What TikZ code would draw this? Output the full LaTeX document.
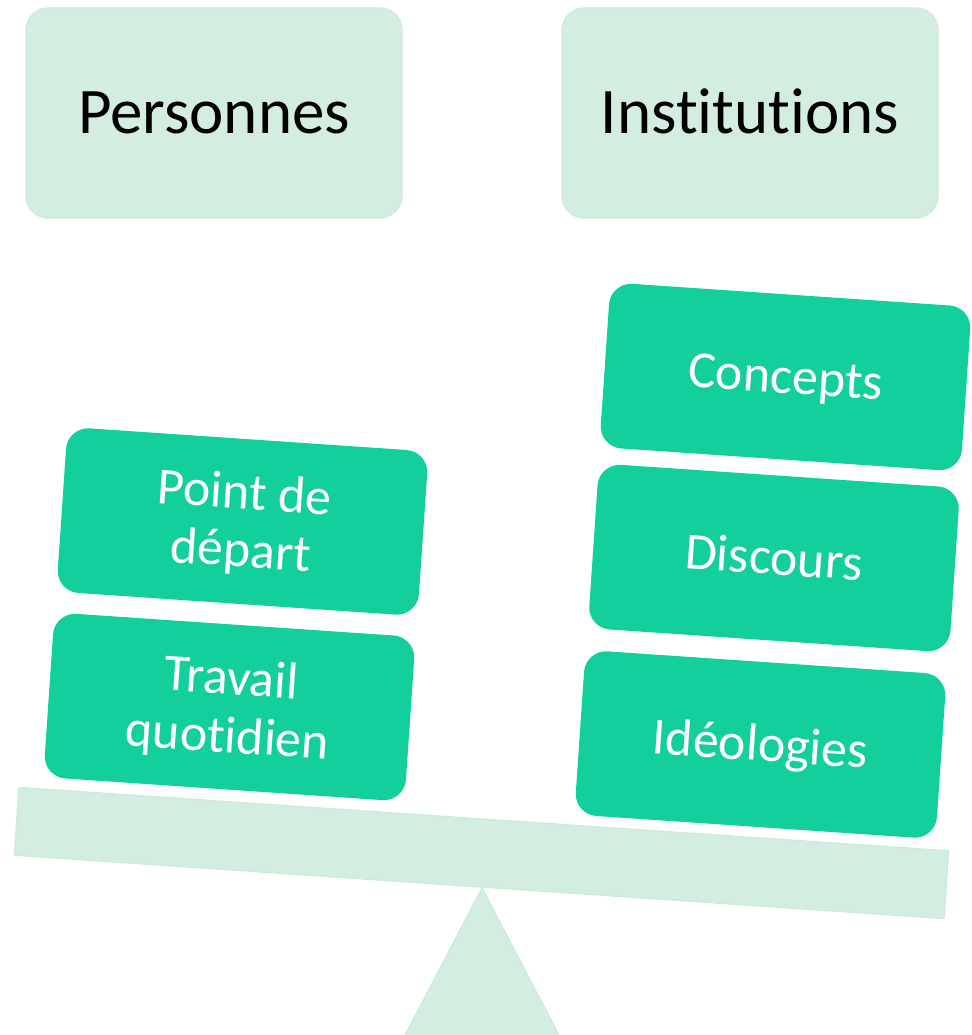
\documentclass[tikz,border=0pt]{standalone}
\usepackage{fontspec}
\setmainfont{Carlito}[Ligatures=NoCommon]
\definecolor{dgreen}{HTML}{12CF9B}
\definecolor{lgreen}{HTML}{D3EEE1}
\definecolor{lborder}{HTML}{CBEBD9}
\tikzset{
  topbox/.style={rectangle, rounded corners=22pt, fill=lgreen, draw=lborder, line width=1.2pt,
    minimum width=376pt, minimum height=210pt, inner sep=0pt, text=black,
    font=\fontsize{65}{72}\selectfont, text height=41pt, text depth=0pt},
  greenbox/.style={rectangle, rounded corners=22pt, fill=dgreen, draw=none,
    minimum width=362pt, minimum height=165pt, inner sep=0pt, rotate=-3.9, text=white,
    font=\fontsize{52}{58}\selectfont, align=center},
  oneline/.style={text height=33pt, text depth=0pt},
  twoline/.style={text height=91pt, text depth=0pt},
  lightshape/.style={fill=lgreen, draw=lborder, line width=1.2pt}
}
\begin{document}
\begin{tikzpicture}[x=1pt,y=1pt]
\useasboundingbox (0,0) rectangle (971,1035);
\clip (0,0) rectangle (971,1035);
% fulcrum
\coordinate (apex) at (482,147);
\coordinate (tl) at (371,-65);
\coordinate (tr) at (593,-65);
\draw[lightshape] (apex) -- (tr) -- (tl) -- cycle;
% beam
\node[rectangle, lightshape, rounded corners=1pt, minimum width=932pt, minimum height=68pt,
  inner sep=0pt, rotate=-3.9] (beam) at (481.5,182) {};
% top boxes
\node[topbox] (pers) at (214,922) {Personnes};
\node[topbox] (inst) at (750,922) {Institutions};
% left stack
\node[greenbox, twoline] (depart) at (242.5,513.5) {Point de\\départ};
\node[greenbox, twoline] (travail) at (229.5,328) {Travail\\quotidien};
% right stack
\node[greenbox, oneline] (concepts) at (785.5,658) {Concepts};
\node[greenbox, oneline] (discours) at (774,477) {Discours};
\node[greenbox, oneline] (ideo) at (760.5,290.5) {Idéologies};
\end{tikzpicture}
\end{document}
